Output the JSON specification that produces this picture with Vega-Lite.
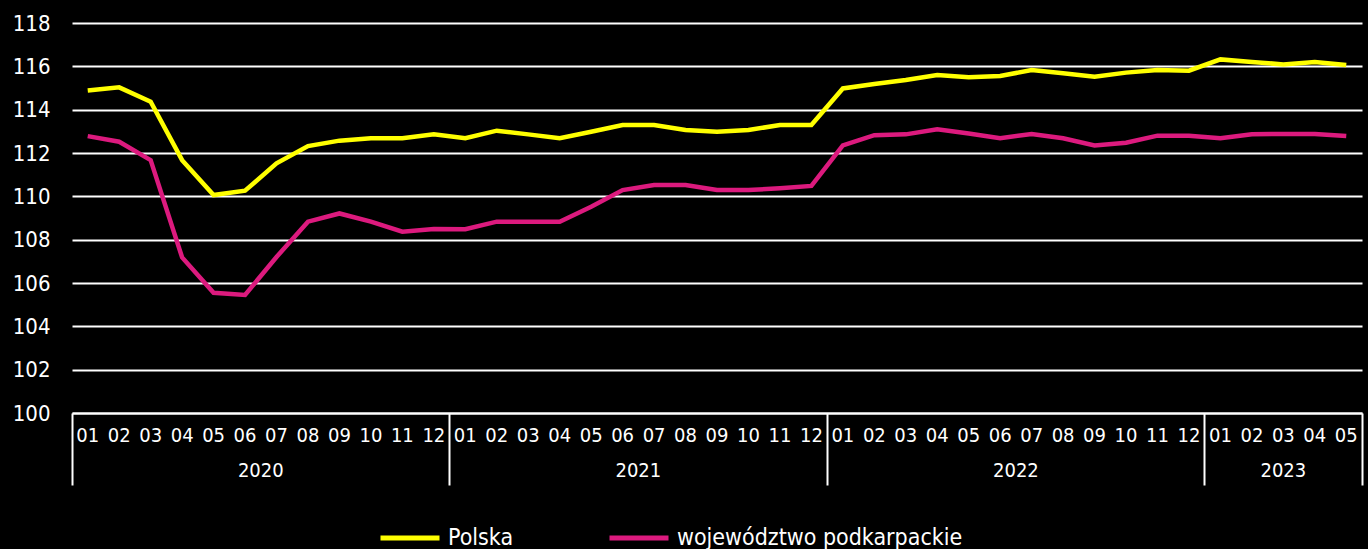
{
  "$schema": "https://vega.github.io/schema/vega-lite/v6.json",
  "width": 1290,
  "height": 390,
  "autosize": {"type": "none"},
  "padding": {"left": 72, "top": 23, "right": 6, "bottom": 136},
  "background": "#000000",
  "config": {
    "view": {"stroke": null},
    "font": "Liberation Sans Narrow, DejaVu Sans Condensed, Roboto, sans-serif",
    "axis": {"labelColor": "#ffffff", "domainColor": "#ffffff", "tickColor": "#ffffff", "titleColor": "#ffffff", "labelFont": "Liberation Sans Narrow, DejaVu Sans Condensed, Roboto, sans-serif"},
    "legend": {"labelFont": "Liberation Sans Narrow, DejaVu Sans Condensed, Roboto, sans-serif"}
  },
  "data": {
    "values": [
      {"t": "2020-01", "Polska": 114.88, "województwo podkarpackie": 112.78},
      {"t": "2020-02", "Polska": 115.03, "województwo podkarpackie": 112.52},
      {"t": "2020-03", "Polska": 114.37, "województwo podkarpackie": 111.67},
      {"t": "2020-04", "Polska": 111.67, "województwo podkarpackie": 107.18},
      {"t": "2020-05", "Polska": 110.06, "województwo podkarpackie": 105.55},
      {"t": "2020-06", "Polska": 110.26, "województwo podkarpackie": 105.45},
      {"t": "2020-07", "Polska": 111.52, "województwo podkarpackie": 107.2},
      {"t": "2020-08", "Polska": 112.32, "województwo podkarpackie": 108.83},
      {"t": "2020-09", "Polska": 112.57, "województwo podkarpackie": 109.21},
      {"t": "2020-10", "Polska": 112.68, "województwo podkarpackie": 108.83},
      {"t": "2020-11", "Polska": 112.68, "województwo podkarpackie": 108.37},
      {"t": "2020-12", "Polska": 112.86, "województwo podkarpackie": 108.49},
      {"t": "2021-01", "Polska": 112.68, "województwo podkarpackie": 108.48},
      {"t": "2021-02", "Polska": 113.03, "województwo podkarpackie": 108.83},
      {"t": "2021-03", "Polska": 112.86, "województwo podkarpackie": 108.83},
      {"t": "2021-04", "Polska": 112.68, "województwo podkarpackie": 108.83},
      {"t": "2021-05", "Polska": 112.98, "województwo podkarpackie": 109.52},
      {"t": "2021-06", "Polska": 113.29, "województwo podkarpackie": 110.29},
      {"t": "2021-07", "Polska": 113.29, "województwo podkarpackie": 110.52},
      {"t": "2021-08", "Polska": 113.06, "województwo podkarpackie": 110.52},
      {"t": "2021-09", "Polska": 112.98, "województwo podkarpackie": 110.29},
      {"t": "2021-10", "Polska": 113.06, "województwo podkarpackie": 110.29},
      {"t": "2021-11", "Polska": 113.29, "województwo podkarpackie": 110.37},
      {"t": "2021-12", "Polska": 113.29, "województwo podkarpackie": 110.48},
      {"t": "2022-01", "Polska": 114.98, "województwo podkarpackie": 112.35},
      {"t": "2022-02", "Polska": 115.18, "województwo podkarpackie": 112.82},
      {"t": "2022-03", "Polska": 115.37, "województwo podkarpackie": 112.86},
      {"t": "2022-04", "Polska": 115.6, "województwo podkarpackie": 113.09},
      {"t": "2022-05", "Polska": 115.5, "województwo podkarpackie": 112.9},
      {"t": "2022-06", "Polska": 115.55, "województwo podkarpackie": 112.68},
      {"t": "2022-07", "Polska": 115.83, "województwo podkarpackie": 112.88},
      {"t": "2022-08", "Polska": 115.68, "województwo podkarpackie": 112.68},
      {"t": "2022-09", "Polska": 115.52, "województwo podkarpackie": 112.35},
      {"t": "2022-10", "Polska": 115.71, "województwo podkarpackie": 112.47},
      {"t": "2022-11", "Polska": 115.83, "województwo podkarpackie": 112.8},
      {"t": "2022-12", "Polska": 115.8, "województwo podkarpackie": 112.8},
      {"t": "2023-01", "Polska": 116.32, "województwo podkarpackie": 112.68},
      {"t": "2023-02", "Polska": 116.2, "województwo podkarpackie": 112.86},
      {"t": "2023-03", "Polska": 116.09, "województwo podkarpackie": 112.88},
      {"t": "2023-04", "Polska": 116.2, "województwo podkarpackie": 112.88},
      {"t": "2023-05", "Polska": 116.06, "województwo podkarpackie": 112.78}
    ]
  },
  "transform": [{"fold": ["Polska", "województwo podkarpackie"], "as": ["seria", "wartosc"]}],
  "layer": [
    {
      "mark": {"type": "line", "strokeWidth": 4.5},
      "encoding": {
        "x": {
          "field": "t", "type": "ordinal",
          "scale": {"type": "band", "paddingInner": 0, "paddingOuter": 0},
          "axis": {"orient": "bottom", "title": null, "labelExpr": "slice(datum.value, 5, 7)", "labelAngle": 0, "labelOverlap": false, "ticks": false, "domain": true, "domainWidth": 2, "domainColor": "#ffffff", "labelFontSize": 20, "labelPadding": 12, "grid": false}
        },
        "y": {
          "field": "wartosc", "type": "quantitative",
          "scale": {"domain": [100, 118], "nice": false, "zero": false},
          "axis": {"title": null, "values": [100, 102, 104, 106, 108, 110, 112, 114, 116, 118], "grid": true, "gridColor": "#ffffff", "gridWidth": 2, "gridOpacity": 1, "domain": false, "ticks": false, "labelFontSize": 22, "labelPadding": 22}
        },
        "color": {
          "field": "seria", "type": "nominal",
          "scale": {"domain": ["Polska", "województwo podkarpackie"], "range": ["#ffff00", "#dc1a7e"]},
          "legend": {"orient": "none", "legendX": 306, "legendY": 483, "direction": "horizontal", "title": null, "symbolType": "stroke", "symbolSize": 3481, "symbolStrokeWidth": 5, "labelFontSize": 23, "labelColor": "#ffffff", "labelLimit": 0, "columnPadding": 85, "labelOffset": 6, "padding": 0}
        }
      }
    },
    {
      "mark": {"type": "point", "opacity": 0},
      "encoding": {
        "x": {
          "field": "t", "type": "ordinal",
          "scale": {"type": "band", "paddingInner": 0, "paddingOuter": 0},
          "axis": {"orient": "bottom", "title": null, "values": ["2020-01", "2021-01", "2022-01", "2023-01"], "bandPosition": 0, "labels": false, "domain": false, "ticks": true, "tickSize": 72, "tickWidth": 2, "tickColor": "#ffffff", "grid": false}
        }
      }
    },
    {
      "mark": {"type": "point", "opacity": 0},
      "encoding": {
        "x": {
          "field": "t", "type": "ordinal",
          "scale": {"type": "band", "paddingInner": 0, "paddingOuter": 0},
          "axis": {"orient": "bottom", "title": null, "values": ["2023-05"], "bandPosition": 1, "labels": false, "domain": false, "ticks": true, "tickSize": 72, "tickWidth": 2, "tickColor": "#ffffff", "grid": false}
        }
      }
    },
    {
      "mark": {"type": "point", "opacity": 0},
      "encoding": {
        "x": {
          "field": "t", "type": "ordinal",
          "scale": {"type": "band", "paddingInner": 0, "paddingOuter": 0},
          "axis": {"orient": "bottom", "title": null, "values": ["2020-06", "2021-06", "2022-06", "2023-03"], "labelExpr": "slice(datum.value, 0, 4)", "labelAngle": 0, "labelOverlap": false, "ticks": false, "domain": false, "grid": false, "labelFontSize": 20, "labelPadding": 47, "labelOffset": {"condition": {"test": "datum.value != '2023-03'", "value": 15.73}, "value": 0}}
        }
      }
    }
  ],
  "resolve": {"axis": {"x": "independent"}}
}
